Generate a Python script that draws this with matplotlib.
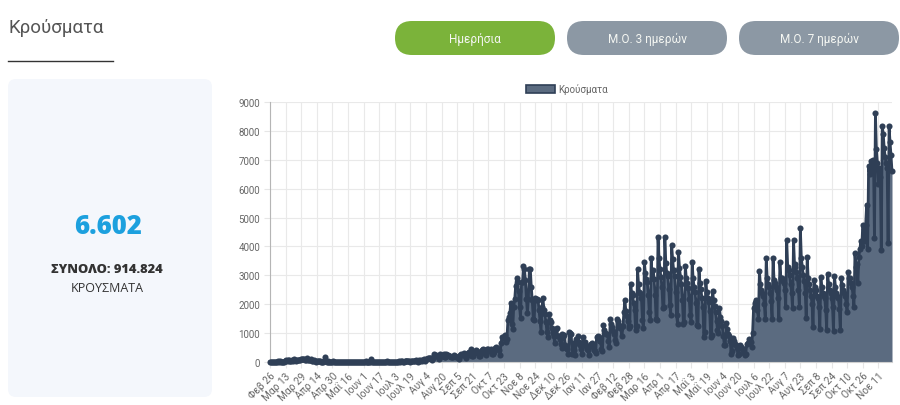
import numpy as np
import matplotlib
matplotlib.use('Agg')
import matplotlib.pyplot as plt
from matplotlib.patches import FancyBboxPatch, Patch

plt.rcParams['font.family'] = ['Roboto', 'DejaVu Sans']

# Daily cases, 26 Feb 2020 onwards (one row = one week, Wed..Tue)
wave1_2020 = [
    1, 2, 1, 0, 0, 0, 3,
    2, 22, 14, 28, 7, 11, 16,
    10, 27, 73, 38, 62, 20, 56,
    31, 46, 77, 35, 94, 71, 48,
    78, 71, 74, 70, 95, 99, 102,
    88, 56, 60, 129, 62, 58, 62,
    91, 33, 34, 65, 20, 15, 21,
    25, 18, 21, 12, 15, 17, 22,
    156, 19, 14, 19, 11, 10, 15,
    16, 10, 21, 8, 9, 10, 15,
    11, 16, 10, 10, 6, 12, 16,
    12, 11, 3, 6, 7, 5, 3,
    10, 2, 4, 10, 6, 3, 11,
    4, 1, 0, 13, 9, 17, 10,
]
summer_2020 = [
    20, 4, 15, 3, 9, 15, 97,
    12, 13, 3, 5, 4, 5, 0,
    11, 6, 17, 3, 2, 3, 4,
    10, 18, 8, 9, 7, 6, 12,
    14, 7, 9, 14, 8, 2, 25,
    12, 21, 23, 7, 15, 18, 29,
    27, 32, 30, 19, 14, 25, 19,
    28, 25, 47, 56, 26, 16, 75,
    50, 57, 47, 78, 110, 40, 121,
    97, 124, 153, 151, 126, 76, 150,
    262, 204, 230, 203, 217, 121, 269,
    234, 201, 202, 284, 168, 157, 293,
    250, 252, 219, 199, 187, 163, 157,
    227, 220, 167, 180, 164, 92, 234,
    288, 234, 230, 326, 283, 148, 259,
    327, 342, 247, 453, 211, 196, 303,
    338, 425, 369, 320, 218, 191, 306,
    410, 460, 402, 301, 318, 240, 460,
    451, 368, 417, 446, 285, 275, 338,
    468, 503, 480, 462, 431, 258, 667,
]
wave2_2020 = [
    865, 882, 841, 935, 685, 790, 1450,
    1547, 1690, 2056, 1317, 1155, 1917, 2166,
    2646, 2917, 2752, 2448, 1914, 1509, 2752,
    2752, 3316, 3209, 2835, 2198, 1695, 2198,
    3209, 3227, 2600, 2131, 1498, 1450, 2200,
    2152, 2196, 2143, 1789, 1407, 1044, 1912,
    2199, 1804, 1677, 1395, 1045, 870, 1676,
    1455, 1382, 1193, 1003, 896, 649, 1154,
    1190, 899, 884, 810, 640, 493, 972,
    850, 930, 579, 486, 444, 262, 1047,
    989, 958, 262, 647, 414, 256, 805,
    674, 896, 697, 582, 451, 287, 876,
    661, 709, 567, 467, 405, 230, 587,
    640, 653, 528, 403, 391, 299, 862,
]
wave3_2021 = [
    905, 875, 737, 723, 446, 384, 1268,
    1109, 1012, 953, 983, 721, 520, 1485,
    1300, 1200, 1058, 981, 763, 650, 1500,
    1403, 1278, 1172, 1163, 900, 1230, 1737,
    2147, 1777, 1578, 1416, 1160, 1259, 2702,
    2377, 2311, 2039, 1806, 1100, 1238, 3215,
    2702, 2434, 2393, 2226, 1453, 1160, 3465,
    3080, 2869, 2779, 2329, 1745, 1450, 3586,
    2922, 3190, 2864, 2332, 1492, 1450, 4340,
    3586, 3228, 2935, 2603, 1860, 1900, 4311,
    3443, 3071, 2980, 2525, 1970, 1620, 4050,
    3553, 3182, 2991, 2437, 1620, 1330, 3800,
    3267, 2957, 2699, 2131, 1330, 1390, 3340,
    2892, 2735, 2558, 2197, 1620, 1390, 3456,
    2902, 2581, 2422, 2043, 1275, 1256, 3213,
    2730, 2512, 2231, 1897, 870, 1051, 2818,
    2420, 2231, 2064, 1756, 870, 921, 2460,
    2136, 1951, 1730, 1418, 1100, 1000, 1880,
    1557, 1403, 1237, 917, 580, 592, 1357,
    1156, 982, 893, 716, 290, 394, 846,
    720, 616, 582, 490, 230, 285, 587,
    533, 476, 412, 326, 230, 290, 612,
]
summer_2021 = [
    652, 782, 740, 695, 527, 1012, 1861,
    2055, 2162, 2089, 1790, 1500, 3150, 2700,
    2500, 2380, 2300, 2000, 1500, 3600, 2900,
    2700, 2600, 2400, 2100, 1500, 3600, 2850,
    2750, 2600, 2500, 2200, 1480, 3460, 2900,
    2900, 2800, 2750, 2500, 1900, 4230, 3300,
    3200, 3000, 2700, 2400, 1855, 4230, 3400,
    3300, 3100, 2900, 2500, 1900, 4640, 3600,
    3300, 3000, 2800, 2400, 1540, 3650, 2900,
    2700, 2500, 2300, 2000, 1200, 2830, 2600,
    2500, 2300, 2200, 1900, 1150, 2950, 2600,
    2400, 2300, 2200, 1800, 1120, 3060, 2700,
    2500, 2400, 2200, 1900, 1060, 2990, 2600,
    2400, 2300, 2200, 1850, 1100, 2900, 2650,
    2500, 2400, 2300, 2000, 1740, 3130, 2900,
    2900, 2750, 2600, 2300, 1900, 3770, 3300,
]
wave4_2021 = [
    3400, 2720, 3650, 3900, 4180, 4000, 4750,
    4600, 4200, 4750, 5450, 3900, 6780, 6500,
    6950, 6790, 6600, 7000, 4290, 8613, 7360,
    6900, 6150, 6700, 6400, 3870, 8170, 7900,
    7400, 7100, 6900, 6700, 4130, 8160, 7600,
    7150, 6602,
]
cases = wave1_2020 + summer_2020 + wave2_2020 + wave3_2021 + summer_2021 + wave4_2021

tick_labels = ["Φεβ 26", "Μαρ 13", "Μαρ 29", "Απρ 14", "Απρ 30", "Μαΐ 16",
               "Ιουν 1", "Ιουν 17", "Ιουλ 3", "Ιουλ 19", "Αυγ 4", "Αυγ 20",
               "Σεπ 5", "Σεπ 21", "Οκτ 7", "Οκτ 23", "Νοε 8", "Νοε 24",
               "Δεκ 10", "Δεκ 26", "Ιαν 11", "Ιαν 27", "Φεβ 12", "Φεβ 28",
               "Μαρ 16", "Απρ 1", "Απρ 17", "Μαΐ 3", "Μαΐ 19", "Ιουν 4",
               "Ιουν 20", "Ιουλ 6", "Ιουλ 22", "Αυγ 7", "Αυγ 23", "Σεπ 8",
               "Σεπ 24", "Οκτ 10", "Οκτ 26", "Νοε 11"]
tick_step = 16
buttons = ["Ημερήσια", "Μ.Ο. 3 ημερών", "Μ.Ο. 7 ημερών"]
latest_text = "6.602"
total_text = "ΣΥΝΟΛΟ: 914.824"

W, H = 900, 406
fig = plt.figure(figsize=(W / 100, H / 100), dpi=100)
fig.patch.set_facecolor('white')

# page furniture in pixel coordinates
bg = fig.add_axes([0, 0, 1, 1])
bg.set_xlim(0, W)
bg.set_ylim(H, 0)
bg.axis('off')

bg.text(8, 28, "Κρούσματα", fontsize=13.5, color='#555555', va='center', ha='left')
bg.plot([8, 113], [62, 62], color='#333333', lw=1)

btn_x = [395, 567, 739]
btn_col = ['#7bb33a', '#8c98a4', '#8c98a4']
for bx, label, col in zip(btn_x, buttons, btn_col):
    bg.add_patch(FancyBboxPatch((bx, 22), 160, 34,
                                boxstyle='round,pad=0,rounding_size=17',
                                fc=col, ec='none'))
    bg.text(bx + 80, 39, label, fontsize=8.5, color='#f4f6f2',
            ha='center', va='center')

bg.add_patch(FancyBboxPatch((8, 80), 204, 318, boxstyle='round,pad=0,rounding_size=8',
                            fc='#f4f7fc', ec='none'))
bg.text(108, 227, latest_text, fontsize=18.5, fontweight='heavy', color='#1ca0de',
        ha='center', va='center', family=['Open Sans', 'DejaVu Sans'])
bg.text(107, 270, total_text, fontsize=9.3, fontweight='heavy', color='#333333',
        ha='center', va='center', family=['Open Sans', 'DejaVu Sans'])
bg.text(107, 289, "ΚΡΟΥΣΜΑΤΑ", fontsize=9, color='#333333',
        ha='center', va='center', family=['Open Sans', 'DejaVu Sans'])

# chart
ax = fig.add_axes([270 / W, (H - 363) / H, 622 / W, 260 / H])
x = np.arange(len(cases))
ax.fill_between(x, cases, color='#5b6b80', lw=0, zorder=2)
ax.plot(x, cases, color='#2f3f56', lw=2.0, marker='o', ms=4.4,
        markerfacecolor='#2f3f56', markeredgewidth=0, zorder=3, clip_on=False)
ax.set_xlim(0, len(cases) - 1)
ax.set_ylim(0, 9000)
ax.set_yticks(np.arange(0, 9001, 1000))
ax.set_xticks(x[::tick_step][:len(tick_labels)])
ax.set_xticklabels(tick_labels, rotation=45, ha='right', rotation_mode='anchor',
                   fontsize=7.3, color='#666666')
ax.tick_params(axis='y', labelsize=7, labelcolor='#666666', length=4, color='#e6e6e6', pad=3)
ax.tick_params(axis='x', length=4, color='#e6e6e6', pad=2)
ax.grid(True, color='#e9e9e9', lw=0.8)
ax.set_axisbelow(True)
for s in ['top', 'right']:
    ax.spines[s].set_visible(False)
ax.spines['left'].set_color('#b5b5b5')
ax.spines['bottom'].set_color('#d0d0d0')
ax.set_facecolor('none')

fig.legend(handles=[Patch(facecolor='#5b6b80', edgecolor='#2f3f56', lw=1.2, label='Κρούσματα')],
           loc='center', bbox_to_anchor=(567 / W, 1 - 90 / H), frameon=False, fontsize=7,
           handlelength=3.0, handleheight=0.9, handletextpad=0.4, labelcolor='#666666')

fig.savefig('out.png', dpi=100, facecolor='white')
